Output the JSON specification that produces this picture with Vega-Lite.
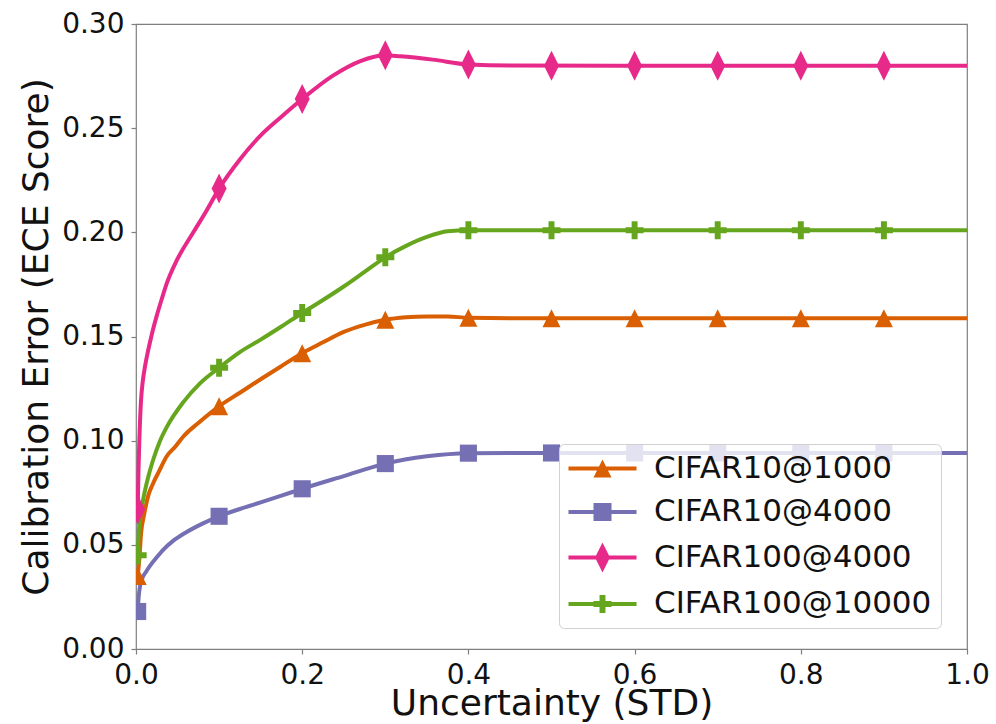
{
  "$schema": "https://vega.github.io/schema/vega-lite/v6.json",
  "width": 831,
  "height": 625,
  "autosize": {"type": "none"},
  "padding": {"left": 136, "top": 24, "right": 29, "bottom": 75},
  "background": "white",
  "config": {
    "font": "DejaVu Sans",
    "view": {"stroke": "#7f7f7f", "strokeWidth": 1.2},
    "axis": {
      "domain": false,
      "grid": false,
      "ticks": true,
      "tickColor": "#7f7f7f",
      "tickSize": 5,
      "tickWidth": 1.2,
      "labelFlush": false,
      "labelOverlap": false,
      "labelFont": "DejaVu Sans",
      "labelFontSize": 28,
      "labelColor": "#111111",
      "labelPadding": 7,
      "titleFont": "DejaVu Sans",
      "titleFontSize": 36,
      "titleFontWeight": "normal",
      "titleColor": "#111111"
    }
  },
  "datasets": {
    "curves": [
      {"series": "CIFAR10@1000", "x": 0.002, "y": 0.035},
      {"series": "CIFAR10@1000", "x": 0.004, "y": 0.043},
      {"series": "CIFAR10@1000", "x": 0.006, "y": 0.055},
      {"series": "CIFAR10@1000", "x": 0.01, "y": 0.065},
      {"series": "CIFAR10@1000", "x": 0.015, "y": 0.074},
      {"series": "CIFAR10@1000", "x": 0.02, "y": 0.079},
      {"series": "CIFAR10@1000", "x": 0.028, "y": 0.0855},
      {"series": "CIFAR10@1000", "x": 0.037, "y": 0.0925},
      {"series": "CIFAR10@1000", "x": 0.047, "y": 0.097},
      {"series": "CIFAR10@1000", "x": 0.057, "y": 0.102},
      {"series": "CIFAR10@1000", "x": 0.075, "y": 0.1085},
      {"series": "CIFAR10@1000", "x": 0.1, "y": 0.1165},
      {"series": "CIFAR10@1000", "x": 0.125, "y": 0.123},
      {"series": "CIFAR10@1000", "x": 0.15, "y": 0.1295},
      {"series": "CIFAR10@1000", "x": 0.175, "y": 0.1358},
      {"series": "CIFAR10@1000", "x": 0.2, "y": 0.142},
      {"series": "CIFAR10@1000", "x": 0.225, "y": 0.1472},
      {"series": "CIFAR10@1000", "x": 0.25, "y": 0.1522},
      {"series": "CIFAR10@1000", "x": 0.275, "y": 0.1556},
      {"series": "CIFAR10@1000", "x": 0.3, "y": 0.158},
      {"series": "CIFAR10@1000", "x": 0.325, "y": 0.1592},
      {"series": "CIFAR10@1000", "x": 0.35, "y": 0.1596},
      {"series": "CIFAR10@1000", "x": 0.375, "y": 0.1596},
      {"series": "CIFAR10@1000", "x": 0.4, "y": 0.159},
      {"series": "CIFAR10@1000", "x": 0.45, "y": 0.1588},
      {"series": "CIFAR10@1000", "x": 0.6, "y": 0.1588},
      {"series": "CIFAR10@1000", "x": 0.8, "y": 0.1588},
      {"series": "CIFAR10@1000", "x": 1.0, "y": 0.1588},

      {"series": "CIFAR10@4000", "x": 0.002, "y": 0.018},
      {"series": "CIFAR10@4000", "x": 0.003, "y": 0.024},
      {"series": "CIFAR10@4000", "x": 0.004, "y": 0.028},
      {"series": "CIFAR10@4000", "x": 0.007, "y": 0.0333},
      {"series": "CIFAR10@4000", "x": 0.012, "y": 0.037},
      {"series": "CIFAR10@4000", "x": 0.017, "y": 0.04},
      {"series": "CIFAR10@4000", "x": 0.025, "y": 0.044},
      {"series": "CIFAR10@4000", "x": 0.033, "y": 0.0477},
      {"series": "CIFAR10@4000", "x": 0.045, "y": 0.052},
      {"series": "CIFAR10@4000", "x": 0.059, "y": 0.0557},
      {"series": "CIFAR10@4000", "x": 0.08, "y": 0.0602},
      {"series": "CIFAR10@4000", "x": 0.1, "y": 0.0637},
      {"series": "CIFAR10@4000", "x": 0.125, "y": 0.0672},
      {"series": "CIFAR10@4000", "x": 0.15, "y": 0.0704},
      {"series": "CIFAR10@4000", "x": 0.175, "y": 0.0736},
      {"series": "CIFAR10@4000", "x": 0.2, "y": 0.0769},
      {"series": "CIFAR10@4000", "x": 0.25, "y": 0.083},
      {"series": "CIFAR10@4000", "x": 0.3, "y": 0.089},
      {"series": "CIFAR10@4000", "x": 0.35, "y": 0.0925},
      {"series": "CIFAR10@4000", "x": 0.4, "y": 0.094},
      {"series": "CIFAR10@4000", "x": 0.45, "y": 0.0941},
      {"series": "CIFAR10@4000", "x": 0.6, "y": 0.0941},
      {"series": "CIFAR10@4000", "x": 0.8, "y": 0.0941},
      {"series": "CIFAR10@4000", "x": 1.0, "y": 0.0941},

      {"series": "CIFAR100@4000", "x": 0.002, "y": 0.067},
      {"series": "CIFAR100@4000", "x": 0.003, "y": 0.086},
      {"series": "CIFAR100@4000", "x": 0.004, "y": 0.1},
      {"series": "CIFAR100@4000", "x": 0.006, "y": 0.119},
      {"series": "CIFAR100@4000", "x": 0.008, "y": 0.128},
      {"series": "CIFAR100@4000", "x": 0.011, "y": 0.136},
      {"series": "CIFAR100@4000", "x": 0.015, "y": 0.144},
      {"series": "CIFAR100@4000", "x": 0.019, "y": 0.151},
      {"series": "CIFAR100@4000", "x": 0.025, "y": 0.16},
      {"series": "CIFAR100@4000", "x": 0.031, "y": 0.168},
      {"series": "CIFAR100@4000", "x": 0.037, "y": 0.1755},
      {"series": "CIFAR100@4000", "x": 0.049, "y": 0.1865},
      {"series": "CIFAR100@4000", "x": 0.069, "y": 0.2},
      {"series": "CIFAR100@4000", "x": 0.085, "y": 0.2105},
      {"series": "CIFAR100@4000", "x": 0.1, "y": 0.221},
      {"series": "CIFAR100@4000", "x": 0.125, "y": 0.235},
      {"series": "CIFAR100@4000", "x": 0.153, "y": 0.2477},
      {"series": "CIFAR100@4000", "x": 0.175, "y": 0.2555},
      {"series": "CIFAR100@4000", "x": 0.2, "y": 0.264},
      {"series": "CIFAR100@4000", "x": 0.237, "y": 0.2752},
      {"series": "CIFAR100@4000", "x": 0.27, "y": 0.2822},
      {"series": "CIFAR100@4000", "x": 0.3, "y": 0.285},
      {"series": "CIFAR100@4000", "x": 0.318, "y": 0.2845},
      {"series": "CIFAR100@4000", "x": 0.357, "y": 0.2829},
      {"series": "CIFAR100@4000", "x": 0.4, "y": 0.2806},
      {"series": "CIFAR100@4000", "x": 0.45, "y": 0.2801},
      {"series": "CIFAR100@4000", "x": 0.6, "y": 0.28},
      {"series": "CIFAR100@4000", "x": 0.8, "y": 0.28},
      {"series": "CIFAR100@4000", "x": 1.0, "y": 0.28},

      {"series": "CIFAR100@10000", "x": 0.002, "y": 0.045},
      {"series": "CIFAR100@10000", "x": 0.004, "y": 0.06},
      {"series": "CIFAR100@10000", "x": 0.007, "y": 0.068},
      {"series": "CIFAR100@10000", "x": 0.009, "y": 0.0725},
      {"series": "CIFAR100@10000", "x": 0.015, "y": 0.083},
      {"series": "CIFAR100@10000", "x": 0.02, "y": 0.09},
      {"series": "CIFAR100@10000", "x": 0.029, "y": 0.1},
      {"series": "CIFAR100@10000", "x": 0.037, "y": 0.1065},
      {"series": "CIFAR100@10000", "x": 0.057, "y": 0.1185},
      {"series": "CIFAR100@10000", "x": 0.077, "y": 0.1275},
      {"series": "CIFAR100@10000", "x": 0.1, "y": 0.135},
      {"series": "CIFAR100@10000", "x": 0.125, "y": 0.1425},
      {"series": "CIFAR100@10000", "x": 0.15, "y": 0.1485},
      {"series": "CIFAR100@10000", "x": 0.175, "y": 0.1548},
      {"series": "CIFAR100@10000", "x": 0.2, "y": 0.1613},
      {"series": "CIFAR100@10000", "x": 0.225, "y": 0.1675},
      {"series": "CIFAR100@10000", "x": 0.25, "y": 0.174},
      {"series": "CIFAR100@10000", "x": 0.275, "y": 0.181},
      {"series": "CIFAR100@10000", "x": 0.3, "y": 0.188},
      {"series": "CIFAR100@10000", "x": 0.325, "y": 0.1935},
      {"series": "CIFAR100@10000", "x": 0.35, "y": 0.1978},
      {"series": "CIFAR100@10000", "x": 0.375, "y": 0.2005},
      {"series": "CIFAR100@10000", "x": 0.4, "y": 0.201},
      {"series": "CIFAR100@10000", "x": 0.6, "y": 0.201},
      {"series": "CIFAR100@10000", "x": 0.8, "y": 0.201},
      {"series": "CIFAR100@10000", "x": 1.0, "y": 0.201}
    ],
    "markers": [
      {"series": "CIFAR10@1000", "x": 0.002, "y": 0.035},
      {"series": "CIFAR10@1000", "x": 0.1, "y": 0.1165},
      {"series": "CIFAR10@1000", "x": 0.2, "y": 0.142},
      {"series": "CIFAR10@1000", "x": 0.3, "y": 0.158},
      {"series": "CIFAR10@1000", "x": 0.4, "y": 0.159},
      {"series": "CIFAR10@1000", "x": 0.5, "y": 0.1588},
      {"series": "CIFAR10@1000", "x": 0.6, "y": 0.1588},
      {"series": "CIFAR10@1000", "x": 0.7, "y": 0.1588},
      {"series": "CIFAR10@1000", "x": 0.8, "y": 0.1588},
      {"series": "CIFAR10@1000", "x": 0.9, "y": 0.1588},
      {"series": "CIFAR10@4000", "x": 0.002, "y": 0.018},
      {"series": "CIFAR10@4000", "x": 0.1, "y": 0.0637},
      {"series": "CIFAR10@4000", "x": 0.2, "y": 0.0769},
      {"series": "CIFAR10@4000", "x": 0.3, "y": 0.089},
      {"series": "CIFAR10@4000", "x": 0.4, "y": 0.094},
      {"series": "CIFAR10@4000", "x": 0.5, "y": 0.0941},
      {"series": "CIFAR10@4000", "x": 0.6, "y": 0.0941},
      {"series": "CIFAR10@4000", "x": 0.7, "y": 0.0941},
      {"series": "CIFAR10@4000", "x": 0.8, "y": 0.0941},
      {"series": "CIFAR10@4000", "x": 0.9, "y": 0.0941},
      {"series": "CIFAR100@4000", "x": 0.002, "y": 0.067},
      {"series": "CIFAR100@4000", "x": 0.1, "y": 0.221},
      {"series": "CIFAR100@4000", "x": 0.2, "y": 0.264},
      {"series": "CIFAR100@4000", "x": 0.3, "y": 0.285},
      {"series": "CIFAR100@4000", "x": 0.4, "y": 0.2806},
      {"series": "CIFAR100@4000", "x": 0.5, "y": 0.28},
      {"series": "CIFAR100@4000", "x": 0.6, "y": 0.28},
      {"series": "CIFAR100@4000", "x": 0.7, "y": 0.28},
      {"series": "CIFAR100@4000", "x": 0.8, "y": 0.28},
      {"series": "CIFAR100@4000", "x": 0.9, "y": 0.28},
      {"series": "CIFAR100@10000", "x": 0.002, "y": 0.045},
      {"series": "CIFAR100@10000", "x": 0.1, "y": 0.135},
      {"series": "CIFAR100@10000", "x": 0.2, "y": 0.1613},
      {"series": "CIFAR100@10000", "x": 0.3, "y": 0.188},
      {"series": "CIFAR100@10000", "x": 0.4, "y": 0.201},
      {"series": "CIFAR100@10000", "x": 0.5, "y": 0.201},
      {"series": "CIFAR100@10000", "x": 0.6, "y": 0.201},
      {"series": "CIFAR100@10000", "x": 0.7, "y": 0.201},
      {"series": "CIFAR100@10000", "x": 0.8, "y": 0.201},
      {"series": "CIFAR100@10000", "x": 0.9, "y": 0.201}
    ]
  },
  "encoding": {
    "x": {
      "field": "x",
      "type": "quantitative",
      "scale": {"domain": [0, 1], "nice": false, "zero": false},
      "axis": {"values": [0, 0.2, 0.4, 0.6, 0.8, 1.0], "format": ".1f", "title": "Uncertainty (STD)", "titlePadding": -3}
    },
    "y": {
      "field": "y",
      "type": "quantitative",
      "scale": {"domain": [0, 0.3], "nice": false, "zero": false},
      "axis": {"values": [0, 0.05, 0.1, 0.15, 0.2, 0.25, 0.3], "format": ".2f", "title": "Calibration Error (ECE Score)", "titlePadding": 6}
    }
  },
  "layer": [
    {
      "data": {"name": "curves"},
      "mark": {"type": "line", "strokeWidth": 4, "clip": true, "interpolate": "monotone"},
      "encoding": {
        "color": {
          "field": "series",
          "type": "nominal",
          "scale": {
            "domain": ["CIFAR10@1000", "CIFAR10@4000", "CIFAR100@4000", "CIFAR100@10000"],
            "range": ["#d95f02", "#7570b3", "#e7298a", "#66a61e"]
          },
          "legend": null
        }
      }
    },
    {
      "data": {"name": "markers"},
      "mark": {"type": "point", "filled": true, "opacity": 1, "size": 324, "clip": true},
      "encoding": {
        "color": {
          "field": "series",
          "type": "nominal",
          "scale": {
            "domain": ["CIFAR10@1000", "CIFAR10@4000", "CIFAR100@4000", "CIFAR100@10000"],
            "range": ["#d95f02", "#7570b3", "#e7298a", "#66a61e"]
          },
          "legend": null
        },
        "shape": {
          "field": "series",
          "type": "nominal",
          "scale": {
            "domain": ["CIFAR10@1000", "CIFAR10@4000", "CIFAR100@4000", "CIFAR100@10000"],
            "range": [
              "M0,-1L1,1L-1,1Z",
              "M-0.95,-0.95H0.95V0.95H-0.95Z",
              "M0,-1.67L0.83,0L0,1.67L-0.83,0Z",
              "M-0.33,-1H0.33V-0.33H1V0.33H0.33V1H-0.33V0.33H-1V-0.33H-0.33Z"
            ]
          },
          "legend": null
        }
      }
    },
    {
      "data": {"name": "markers"},
      "mark": {"type": "point", "filled": true, "opacity": 0, "size": 324},
      "encoding": {
        "fill": {
          "field": "series",
          "type": "nominal",
          "scale": {
            "domain": ["CIFAR10@1000", "CIFAR10@4000", "CIFAR100@4000", "CIFAR100@10000"],
            "range": ["#d95f02", "#7570b3", "#e7298a", "#66a61e"]
          },
          "legend": {
            "title": null,
            "orient": "none",
            "legendX": 423,
            "legendY": 420,
            "padding": 9,
            "fillColor": "rgba(255,255,255,0.8)",
            "strokeColor": "#d0d0d0",
            "cornerRadius": 5,
            "symbolSize": 324,
            "symbolOpacity": 1,
            "symbolOffset": 19,
            "labelOffset": 36,
            "labelFont": "DejaVu Sans",
            "labelFontSize": 31,
            "labelColor": "#111111",
            "labelLimit": 400,
            "rowPadding": 11.5
          }
        },
        "shape": {
          "field": "series",
          "type": "nominal",
          "scale": {
            "domain": ["CIFAR10@1000", "CIFAR10@4000", "CIFAR100@4000", "CIFAR100@10000"],
            "range": [
              "M-3.78,-0.22H3.78V0.22H-3.78ZM0,-1L1,1L-1,1Z",
              "M-3.78,-0.22H3.78V0.22H-3.78ZM-1,-1H1V1H-1Z",
              "M-3.78,-0.22H3.78V0.22H-3.78ZM0,-1.67L0.83,0L0,1.67L-0.83,0Z",
              "M-3.78,-0.22H3.78V0.22H-3.78ZM-0.33,-1H0.33V-0.33H1V0.33H0.33V1H-0.33V0.33H-1V-0.33H-0.33Z"
            ]
          },
          "legend": {
            "title": null,
            "orient": "none",
            "legendX": 423,
            "legendY": 420,
            "padding": 9,
            "fillColor": "rgba(255,255,255,0.8)",
            "strokeColor": "#d0d0d0",
            "cornerRadius": 5,
            "symbolSize": 324,
            "symbolOpacity": 1,
            "symbolOffset": 19,
            "labelOffset": 36,
            "labelFont": "DejaVu Sans",
            "labelFontSize": 31,
            "labelColor": "#111111",
            "labelLimit": 400,
            "rowPadding": 11.5
          }
        }
      }
    }
  ],
  "resolve": {
    "scale": {"shape": "independent", "fill": "independent"},
    "legend": {"shape": "independent", "fill": "independent"}
  }
}
